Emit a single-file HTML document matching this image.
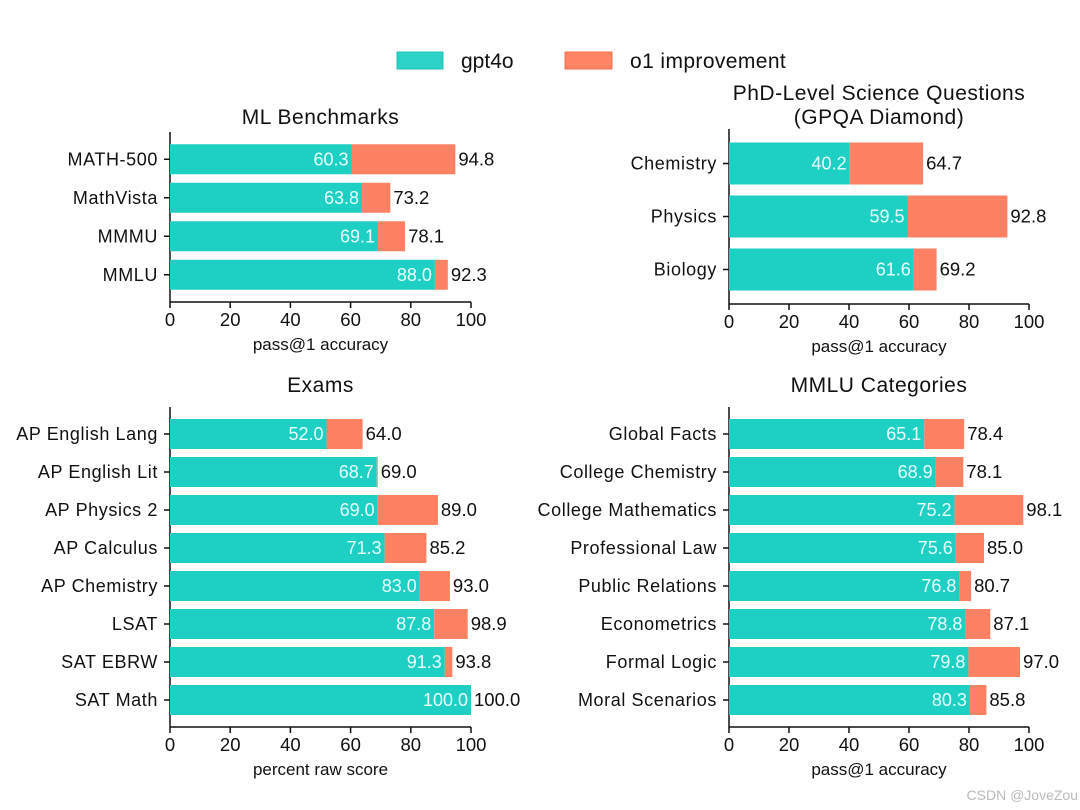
<!DOCTYPE html>
<html><head><meta charset="utf-8"><style>
body{margin:0;background:#fff}
svg{display:block;font-family:"Liberation Sans",sans-serif}
</style></head><body>
<svg id="c" width="1080" height="810" viewBox="0 0 1080 810">
<g>
<rect x="397" y="52" width="46" height="17" fill="#2ed3c8" stroke="#1fbfb4"/>
<text x="461" y="68" font-size="21" fill="#111">gpt4o</text>
<rect x="565" y="52" width="47" height="17" fill="#ff8466" stroke="#f07050"/>
<text x="630" y="68" font-size="21" fill="#111" letter-spacing="0.4">o1 improvement</text>
</g>
<text x="1078" y="800" font-size="14" fill="#bbb" text-anchor="end">CSDN @JoveZou</text>
</svg>
<script>
const mlCats=["MATH-500","MathVista","MMMU","MMLU"];
const mlBase=[60.3,63.8,69.1,88.0];
const mlTotal=[94.8,73.2,78.1,92.3];
const phdCats=["Chemistry","Physics","Biology"];
const phdBase=[40.2,59.5,61.6];
const phdTotal=[64.7,92.8,69.2];
const examCats=["AP English Lang","AP English Lit","AP Physics 2","AP Calculus","AP Chemistry","LSAT","SAT EBRW","SAT Math"];
const examBase=[52.0,68.7,69.0,71.3,83.0,87.8,91.3,100.0];
const examTotal=[64.0,69.0,89.0,85.2,93.0,98.9,93.8,100.0];
const mmluCats=["Global Facts","College Chemistry","College Mathematics","Professional Law","Public Relations","Econometrics","Formal Logic","Moral Scenarios"];
const mmluBase=[65.1,68.9,75.2,75.6,76.8,78.8,79.8,80.3];
const mmluTotal=[78.4,78.1,98.1,85.0,80.7,87.1,97.0,85.8];
const ticks=[0,20,40,60,80,100];

const svg=document.getElementById('c');
const NS='http://www.w3.org/2000/svg';
function mk(tag,attrs,parent){const e=document.createElementNS(NS,tag);for(const k in attrs)e.setAttribute(k,attrs[k]);parent.appendChild(e);return e;}

function panel(p){
  const g=mk('g',{},svg);
  
  
  const x=v=>p.x0+v*(p.x1-p.x0)/100;
  const n=p.cats.length;
  const step=(p.yBot-p.yTop)/n;
  const y=i=>p.yTop+step*(i+0.5);
  p.title.forEach((t,k)=>{const e=mk('text',{x:(p.x0+p.x1)/2,y:p.titleY+k*24,'font-size':21,'letter-spacing':0.5,'text-anchor':'middle',fill:'#111'},g);e.textContent=t;
    });
  const ax=mk('line',{x1:p.x0,x2:p.x0,y1:p.yTop-8,y2:p.yBot+8,stroke:'#111','stroke-width':1.5},g);
  
  const bx=mk('line',{x1:p.x0,x2:p.x1,y1:p.yBot+8,y2:p.yBot+8,stroke:'#111','stroke-width':1.5},g);
  
  ticks.forEach(t=>{
    const l=mk('line',{x1:x(t),x2:x(t),y1:p.yBot+8,y2:p.yBot+14,stroke:'#111','stroke-width':1.5},g);
    
    const e=mk('text',{x:x(t),y:p.yBot+32,'font-size':18.5,'text-anchor':'middle',fill:'#111'},g);e.textContent=t;
    
  });
  const xl=mk('text',{x:(p.x0+p.x1)/2,y:p.yBot+56,'font-size':17,'text-anchor':'middle',fill:'#111'},g);xl.textContent=p.xlabel;
  
  p.cats.forEach((c,i)=>{
    const cy=y(i),h=p.bh;
    const l=mk('line',{x1:p.x0-6,x2:p.x0,y1:cy,y2:cy,stroke:'#111','stroke-width':1.5},g);
    
    const t=mk('text',{x:p.x0-12,y:cy+6,'font-size':18,'letter-spacing':0.6,'text-anchor':'end',fill:'#111'},g);t.textContent=c;
    
    const r1=mk('rect',{x:x(0),y:cy-h/2,width:x(p.base[i])-x(0),height:h,fill:'#1ecfc4'},g);
    
    const r2=mk('rect',{x:x(p.base[i]),y:cy-h/2,width:x(p.total[i])-x(p.base[i]),height:h,fill:'#ff8163'},g);
    
    const v1=mk('text',{x:x(p.base[i])-3,y:cy+6,'font-size':18,'text-anchor':'end',fill:'#e8fffd'},g);v1.textContent=p.base[i].toFixed(1);
    
    const v2=mk('text',{x:x(p.total[i])+3,y:cy+6,'font-size':18.5,fill:'#111'},g);v2.textContent=p.total[i].toFixed(1);
    
  });
}
panel({name:'ml-benchmarks-panel',cats:mlCats,base:mlBase,total:mlTotal,x0:170,x1:471,yTop:140,yBot:294,bh:30,title:['ML Benchmarks'],titleY:124,xlabel:'pass@1 accuracy'});
panel({name:'phd-science-panel',cats:phdCats,base:phdBase,total:phdTotal,x0:729,x1:1029,yTop:137,yBot:296,bh:42,title:['PhD-Level Science Questions','(GPQA Diamond)'],titleY:100,xlabel:'pass@1 accuracy'});
panel({name:'exams-panel',cats:examCats,base:examBase,total:examTotal,x0:170,x1:471,yTop:415,yBot:719,bh:30,title:['Exams'],titleY:392,xlabel:'percent raw score'});
panel({name:'mmlu-categories-panel',cats:mmluCats,base:mmluBase,total:mmluTotal,x0:729,x1:1029,yTop:415,yBot:719,bh:30,title:['MMLU Categories'],titleY:392,xlabel:'pass@1 accuracy'});
</script>
</body></html>
